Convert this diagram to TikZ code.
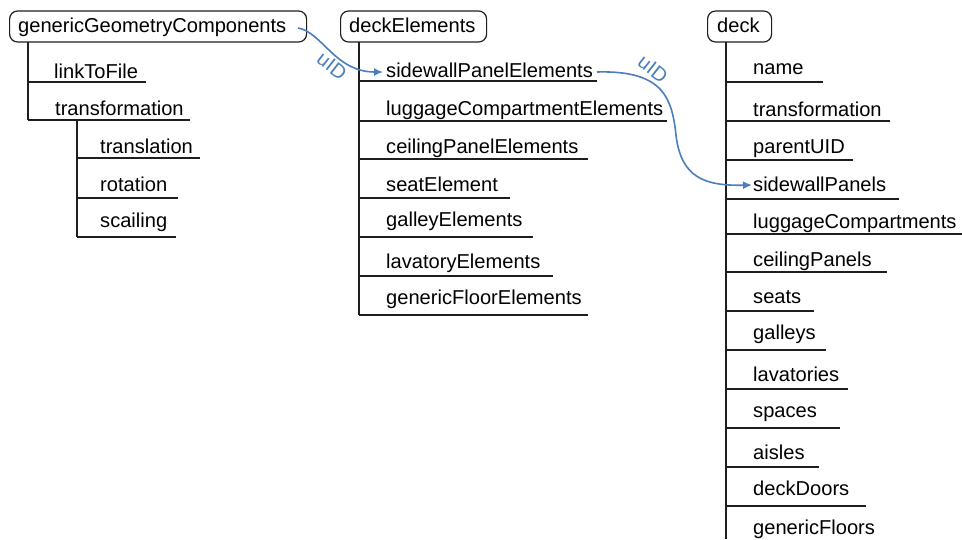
\documentclass[tikz,border=0pt]{standalone}
\usepackage{fontspec}
\setmainfont{Liberation Sans}
\usetikzlibrary{arrows.meta}
\definecolor{uidblue}{RGB}{74,126,190}
\definecolor{linegray}{RGB}{30,30,30}
\begin{document}
\begin{tikzpicture}[x=1pt,y=-1pt,
  every node/.style={font=\fontsize{20.1}{24}\selectfont},
  rootbox/.style={draw=linegray,line width=1.2pt,rounded corners=8pt,minimum height=31pt,anchor=west},
  item/.style={anchor=base west,inner sep=0pt},
  tline/.style={draw=linegray,line width=1.2pt},
  uid/.style={draw=uidblue,line width=1.6pt,-{Latex[length=9pt,width=8pt]}},
  uidlabel/.style={text=uidblue,rotate=-38,inner sep=0pt}]
\useasboundingbox (0,0) rectangle (962,539);

% ---------- genericGeometryComponents ----------
\node[rootbox,minimum width=297pt] (ggc) at (9,26.5) {};
\node[item] (ggct) at (18,32) {genericGeometryComponents};
\node[item] (ltf) at (54,78) {linkToFile};
\node[item] (tr1) at (55,115) {transformation};
\node[item] (tsl) at (100,153) {translation};
\node[item] (rot) at (100,191) {rotation};
\node[item] (sca) at (100,227) {scailing};
\draw[tline] (28,42) -- (28,120);
\draw[tline] (28,82) -- (146,82);
\draw[tline] (28,120) -- (190,120);
\draw[tline] (77,120) -- (77,237);
\draw[tline] (77,158) -- (200,158);
\draw[tline] (77,198) -- (178,198);
\draw[tline] (77,237) -- (176,237);

% ---------- deckElements ----------
\node[rootbox,minimum width=146pt] (de) at (340,26.5) {};
\node[item] (det) at (349,32) {deckElements};
\node[item] (spe) at (386,77) {sidewallPanelElements};
\node[item] (lce) at (386,115) {luggageCompartmentElements};
\node[item] (cpe) at (386,153) {ceilingPanelElements};
\node[item] (se) at (386,191) {seatElement};
\node[item] (ge) at (386,226) {galleyElements};
\node[item] (le) at (386,268) {lavatoryElements};
\node[item] (gfe) at (386,304) {genericFloorElements};
\draw[tline] (359,42) -- (359,315);
\draw[tline] (359,81) -- (597,81);
\draw[tline] (359,121) -- (667,121);
\draw[tline] (359,159) -- (588,159);
\draw[tline] (359,198) -- (510,198);
\draw[tline] (359,237) -- (533,237);
\draw[tline] (359,276) -- (553,276);
\draw[tline] (359,315) -- (588,315);

% ---------- deck ----------
\node[rootbox,minimum width=64pt] (dk) at (707,26.5) {};
\node[item] (dkt) at (717,32) {deck};
\node[item] (nm) at (753,74) {name};
\node[item] (tr2) at (753,116) {transformation};
\node[item] (puid) at (753,153) {parentUID};
\node[item] (swp) at (753,191) {sidewallPanels};
\node[item] (lc) at (753,228) {luggageCompartments};
\node[item] (cp) at (753,266) {ceilingPanels};
\node[item] (st) at (753,303) {seats};
\node[item] (gl) at (753,339) {galleys};
\node[item] (lv) at (753,381) {lavatories};
\node[item] (sp) at (753,417) {spaces};
\node[item] (ai) at (753,459) {aisles};
\node[item] (dd) at (753,495) {deckDoors};
\node[item] (gf) at (753,534) {genericFloors};
\draw[tline] (726,42) -- (726,539);
\draw[tline] (726,82) -- (823,82);
\draw[tline] (726,121) -- (890,121);
\draw[tline] (726,160) -- (853,160);
\draw[tline] (726,199) -- (899,199);
\draw[tline] (726,234) -- (962,234);
\draw[tline] (726,272) -- (887,272);
\draw[tline] (726,311) -- (814,311);
\draw[tline] (726,350) -- (826,350);
\draw[tline] (726,389) -- (848,389);
\draw[tline] (726,428) -- (840,428);
\draw[tline] (726,467) -- (819,467);
\draw[tline] (726,506) -- (866,506);

% ---------- uID links ----------
\coordinate (a1) at (298,28);
\coordinate (b1) at (383,72);
\draw[uid] (a1) .. controls (322,32) and (335,72) .. (b1);
\node[uidlabel] (u1) at (332,66) {uID};

\coordinate (a2) at (597,72);
\coordinate (b2) at (752,185);
\draw[uid] (a2) .. controls (665,70) and (672,100) .. (676,135)
  .. controls (681,178) and (705,186) .. (b2);
\node[uidlabel] (u2) at (653,69) {uID};
\end{tikzpicture}
\end{document}
